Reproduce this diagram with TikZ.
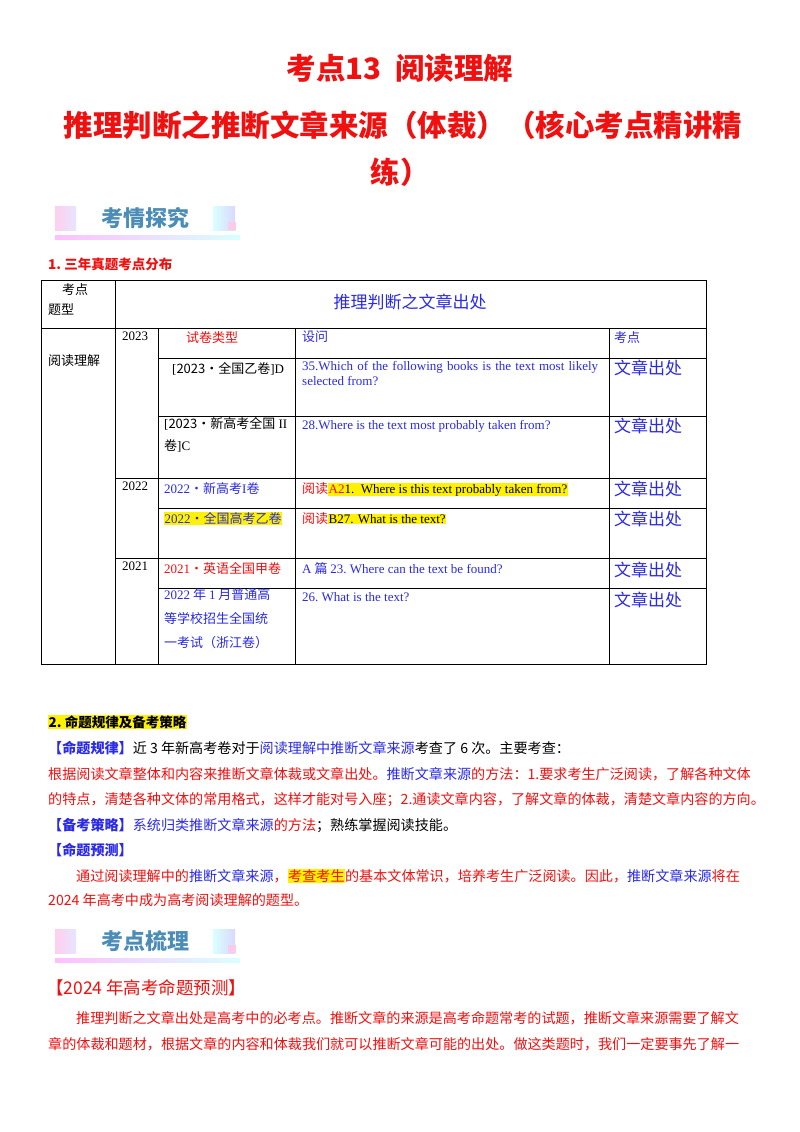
\documentclass[tikz,border=0pt]{standalone}
\usepackage{fontspec}
\setmainfont{Noto Sans CJK SC}
\newfontfamily\lat{Liberation Serif}
\usetikzlibrary{calc}
\definecolor{rd}{HTML}{F01010}
\definecolor{bl}{HTML}{2A2AE8}
\definecolor{hl}{HTML}{FFF200}
\definecolor{bn}{HTML}{4C8DB8}
\newcommand{\R}[1]{\textcolor{rd}{#1}}
\newcommand{\B}[1]{\textcolor{bl}{#1}}
\newcommand{\HL}[1]{\colorbox{hl}{#1}}
\tikzset{x=1pt,y=-1pt,
 t/.style={anchor=west,inner sep=0,font=\fontsize{14.1}{16}\selectfont},
 c/.style={anchor=north west,inner sep=0,font=\fontsize{13}{18}\selectfont,align=left},
 ttl/.style={font=\bfseries\fontsize{29.5}{32}\selectfont,text=rd,inner sep=0},
 ln/.style={line width=0.7pt}}
\setlength{\fboxsep}{0.5pt}
\newcommand{\banner}[3]{%
 \fill[left color=pink!70!magenta!40,right color=blue!10] (55,#1-12) rectangle (76,#1+12);
 \fill[left color=cyan!15,right color=blue!15] (213,#1-12) rectangle (235,#1+12);
 \fill[magenta!20] (228,#1+4) rectangle (236,#1+12);
 \fill[left color=magenta!25,right color=cyan!15] (55,#1+17) rectangle (240,#1+21);
 \node[inner sep=0,font=\bfseries\fontsize{22}{24}\selectfont,text=bn] (#3) at (145,#1) {#2};}
\begin{document}
\begin{tikzpicture}
\useasboundingbox[fill=white] (0,0) rectangle (800,1132);
\node[ttl] (t1) at (400,68) {考点13\ \ 阅读理解};
\node[ttl] (t2) at (403,125) {推理判断之推断文章来源（体裁）（核心考点精讲精};
\node[ttl] (t3) at (400,172) {练）};
\banner{218}{考情探究}{bn1}
\node[t,font=\bfseries\fontsize{13.5}{16}\selectfont,text=rd] (s1) at (48,264) {1.\ 三年真题考点分布};
% table
\draw[ln] (41,280) rectangle (706,664);
\draw[ln] (115,280) -- (115,664);
\draw[ln] (41,328) -- (706,328);
\draw[ln] (158,328) -- (158,664);
\draw[ln] (295,328) -- (295,664);
\draw[ln] (609,328) -- (609,664);
\draw[ln] (158,358) -- (706,358);
\draw[ln] (158,416) -- (706,416);
\draw[ln] (115,478) -- (706,478);
\draw[ln] (158,508) -- (706,508);
\draw[ln] (115,558) -- (706,558);
\draw[ln] (158,588) -- (706,588);
\node[c] (h1) at (62,283) {考点};
\node[c] (h2) at (48,303) {题型};
\node[font=\fontsize{17}{20}\selectfont,text=bl,inner sep=0] (h3) at (410,302) {推理判断之文章出处};
\node[c] (rl) at (48,354) {阅读理解};
\node[c,font=\lat\fontsize{13}{16}\selectfont] (y1) at (122,332) {2023};
\node[c,font=\lat\fontsize{13}{16}\selectfont] (y2) at (122,482) {2022};
\node[c,font=\lat\fontsize{13}{16}\selectfont] (y3) at (122,562) {2021};
\node[c,text=rd] (a0) at (186,331) {试卷类型};
\node[c,text=bl] (b0) at (302,331) {设问};
\node[c,text=bl] (k0) at (614,331) {考点};
\node[c,font=\fontsize{13}{16}\selectfont] (a1) at (172,362) {{\lat[}2023·全国乙卷{\lat]D}};
\node[c,text=bl,text width=296pt,align=justify,font=\lat\fontsize{13}{15}\selectfont] (b1) at (302,361) {35.Which of the following books is the text most likely selected from?};
\node[c,font=\fontsize{13}{22}\selectfont] (a2) at (164,417) {{\lat[}2023·新高考全国{\lat\ II}\\卷{\lat]C}};
\node[c,text=bl,font=\lat\fontsize{13}{15}\selectfont] (b2) at (302,420) {28.Where is the text most probably taken from?};
\node[c,text=bl,font=\fontsize{13}{16}\selectfont] (a3) at (164,482) {{\lat 2022}·新高考{\lat I}卷};
\node[c,font=\fontsize{13}{16}\selectfont] (b3) at (302,482) {\R{阅读}\HL{\R{\lat A2}{\lat 1.\ \ Where is this text probably taken from?}}};
\node[c,text=bl,font=\fontsize{13}{16}\selectfont] (a4) at (164,512) {\HL{{\lat 2022}·全国高考乙卷}};
\node[c,font=\fontsize{13}{16}\selectfont] (b4) at (302,512) {\R{阅读}\HL{\lat B27. What is the text?}};
\node[c,text=rd,font=\fontsize{13}{16}\selectfont] (a5) at (164,562) {{\lat 2021}·英语全国甲卷};
\node[c,text=bl,font=\fontsize{13}{16}\selectfont] (b5) at (302,562) {{\lat A} 篇 {\lat 23.\ Where can the text be found?}};
\node[c,text=bl,font=\fontsize{13}{24}\selectfont] (a6) at (164,588) {{\lat 2022} 年 {\lat 1} 月普通高\\等学校招生全国统\\一考试（浙江卷）};
\node[c,text=bl,font=\lat\fontsize{13}{16}\selectfont] (b6) at (302,592) {26.\ What is the text?};
\foreach \n/\yy in {k1/360,k2/418,k3/481,k4/511,k5/562,k6/592}
 \node[c,text=bl,font=\fontsize{17}{20}\selectfont] (\n) at (614,\yy) {文章出处};
% section 2
\node[t,font=\bfseries\fontsize{13.5}{16}\selectfont] (s2) at (48,722) {\HL{2.\ 命题规律及备考策略}};
\node[t] (p1) at (48,748) {\B{\textbf{【命题规律】}}近 3 年新高考卷对于\B{阅读理解中推断文章来源}考查了 6 次。主要考查：};
\node[t,text=rd] (p2) at (48,774) {根据阅读文章整体和内容来推断文章体裁或文章出处。\B{推断文章来源}的方法：1.要求考生广泛阅读，了解各种文体};
\node[t,text=rd] (p3) at (48,800) {的特点，清楚各种文体的常用格式，这样才能对号入座；2.通读文章内容，了解文章的体裁，清楚文章内容的方向。};
\node[t] (p4) at (48,826) {\B{\textbf{【备考策略】}系统归类推断文章来源}\R{的方法}；熟练掌握阅读技能。};
\node[t,text=bl,font=\bfseries\fontsize{14.1}{16}\selectfont] (p5) at (48,850) {【命题预测】};
\node[t,text=rd] (p6) at (76,876) {通过阅读理解中的\B{推断文章来源}，\HL{考查考生}的基本文体常识，培养考生广泛阅读。因此，\B{推断文章来源}将在};
\node[t,text=rd] (p7) at (48,900) {2024 年高考中成为高考阅读理解的题型。};
\banner{941}{考点梳理}{bn2}
\node[t,text=rd,font=\fontsize{17.5}{20}\selectfont] (q0) at (46,988) {【2024 年高考命题预测】};
\node[t,text=rd] (q1) at (76,1018) {推理判断之文章出处是高考中的必考点。推断文章的来源是高考命题常考的试题，推断文章来源需要了解文};
\node[t,text=rd] (q2) at (48,1044) {章的体裁和题材，根据文章的内容和体裁我们就可以推断文章可能的出处。做这类题时，我们一定要事先了解一};
\end{tikzpicture}
\end{document}
